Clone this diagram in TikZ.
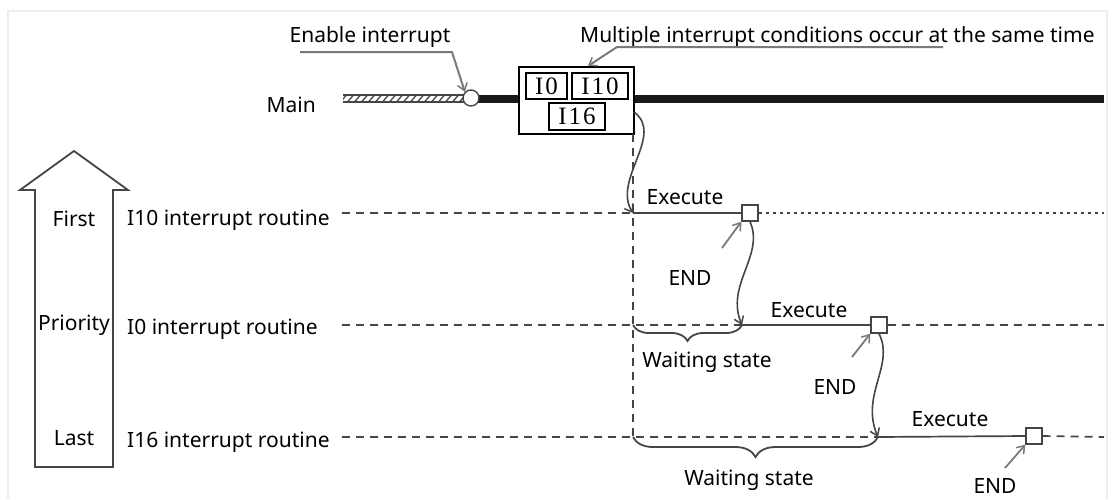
\documentclass[tikz,border=0pt]{standalone}
\usepackage{fontspec}
\setmainfont{Noto Sans}
\newfontfamily\boxfont[LetterSpace=8]{Liberation Serif}
\usetikzlibrary{arrows.meta,decorations.pathreplacing}
\definecolor{ln}{HTML}{454545}
\definecolor{lead}{HTML}{7A7A7A}
\definecolor{frame}{HTML}{EDEDED}
\begin{document}
\begin{tikzpicture}[x=1pt,y=-1pt,
  lbl/.style={font=\fontsize{21}{25}\selectfont, inner sep=0pt, anchor=base},
  boxlbl/.style={draw=black, line width=1.3pt, fill=white, inner sep=0pt,
    font=\boxfont\fontsize{25}{25}\selectfont},
  timeline/.style={draw=ln, line width=1.7pt, dash pattern=on 8pt off 6pt},
  dotline/.style={draw=ln, line width=1.7pt, dash pattern=on 3pt off 4pt},
  execline/.style={draw=ln, line width=1.7pt},
  endsq/.style={draw=ln, line width=1.4pt, fill=white, minimum size=16pt,
    inner sep=0pt},
  tip/.style={-{Straight Barb[length=7pt,width=10pt,line width=1.5pt]}},
  flow/.style={draw=ln, line width=1.6pt, tip},
  leader/.style={draw=lead, line width=2pt, tip},
  waitbrace/.style={draw=ln, line width=1.8pt, decorate,
    decoration={brace, mirror, amplitude=#1}}
]
\useasboundingbox (0,0) rectangle (1113,499);

% faint outer frame
\draw[frame, line width=1.5pt] (8,499) -- (8,11) -- (1107,11) -- (1107,499);

% priority arrow
\draw[ln, line width=1.8pt, line join=miter]
  (74,151) -- (128,190) -- (113,190) -- (113,467) -- (35,467)
  -- (35,190) -- (20,190) -- cycle;
\node[lbl] (first) at (74,226) {First};
\node[lbl] (prio)  at (74,330) {Priority};
\node[lbl] (last)  at (74,445) {Last};

% routine labels
\node[lbl, anchor=base west] (r10) at (127,225) {I10 interrupt routine};
\node[lbl, anchor=base west] (r0)  at (127,334) {I0 interrupt routine};
\node[lbl, anchor=base west] (r16) at (127,447) {I16 interrupt routine};

% main program line
\node[lbl, anchor=base east] (main) at (316,112) {Main};
\begin{scope}
  \clip (343,94.5) rectangle (464,102.5);
  \foreach \x in {340,347,...,465}
    \draw[ln, line width=1.3pt] (\x,102.5) -- (\x+7,94.5);
\end{scope}
\draw[ln, line width=1.2pt] (343,95) -- (464,95) (343,102) -- (464,102);
\coordinate (mainend) at (1104,99);
\coordinate (mainstart) at (471,99);
\draw[line width=8pt, color=black!90] (mainstart) -- (mainend);
\node[circle, draw=ln, line width=1.4pt, fill=white, minimum size=16pt,
  inner sep=0pt] (en) at (471,98) {};

% interrupt request box
\node[draw=black, line width=1.5pt, fill=white, minimum width=115pt,
  minimum height=67pt, inner sep=0pt] (req) at (576.5,100.5) {};
\node[boxlbl, minimum width=41pt, minimum height=26pt] (b0)  at (546.5,86) {I0};
\node[boxlbl, minimum width=56pt, minimum height=26pt] (b10) at (600,86) {I10};
\node[boxlbl, minimum width=56pt, minimum height=27pt] (b16) at (577,116.5) {I16};

% labels at the top and their leaders
\node[lbl] (entxt) at (370,42) {Enable interrupt};
\node[lbl, anchor=base west] (multxt) at (580,42)
  {Multiple interrupt conditions occur at the same time};
\coordinate (enA) at (300,52);
\coordinate (enB) at (452,52);
\coordinate (muA) at (943,47);
\coordinate (muB) at (617,47);
\coordinate (muT) at (588,66);
\draw[leader] (enA) -- (enB) -- (en.north west);
\draw[leader] (muA) -- (muB) -- (muT);

% vertical switch-over line
\coordinate (vtop) at (633,134);
\coordinate (v10) at (633,213);
\coordinate (v0)  at (633,325);
\coordinate (v16) at (633,437);
\draw[timeline] (vtop) -- (v16);

% I10 routine
\coordinate (s10) at (342,213);
\node[endsq] (q10) at (750,213) {};
\draw[timeline] (s10) -- (v10);
\draw[execline] (v10) -- (q10.west);
\draw[dotline] (q10.east) -- (1104,213);

% I0 routine
\coordinate (s0) at (342,325);
\coordinate (e0) at (742,325);
\node[endsq] (q0) at (879,325) {};
\draw[timeline] (s0) -- (e0);
\draw[execline] (e0) -- (q0.west);
\draw[timeline] (q0.east) -- (1104,325);

% I16 routine
\coordinate (s16) at (342,437);
\coordinate (e16) at (878,437);
\node[endsq] (q16) at (1034,436) {};
\draw[timeline] (s16) -- (e16);
\draw[execline] (e16) -- (q16.west);
\draw[timeline] (q16.east) -- (1104,437);

% flow from the request box through the routines
\coordinate (boxout) at (634,112);
\draw[flow] (boxout) .. controls (665,135) and (612,180) .. (v10);
\draw[flow] (q10.south) .. controls (765,255) and (725,285) .. (e0);
\draw[flow] (q0.south) .. controls (895,365) and (860,395) .. (e16);

% END markers
\coordinate (p10) at (722,248);
\coordinate (p0)  at (852,357);
\coordinate (p16) at (1005,468);
\draw[leader, line width=1.8pt] (p10) -- (q10.south west);
\draw[leader, line width=1.8pt] (p0) -- (q0.south west);
\draw[leader, line width=1.8pt] (p16) -- (q16.south west);

\node[lbl] (x10) at (685,204) {Execute};
\node[lbl] (x0)  at (809,317) {Execute};
\node[lbl] (x16) at (950,426) {Execute};
\node[lbl] (d10) at (690,285) {END};
\node[lbl] (d0)  at (835,394) {END};
\node[lbl] (d16) at (995,493) {END};

% waiting periods
\draw[waitbrace=16pt] (v0) -- (e0);
\draw[waitbrace=20pt] (v16) -- (e16);
\node[lbl] (w0)  at (707,367) {Waiting state};
\node[lbl] (w16) at (749,485) {Waiting state};
\end{tikzpicture}
\end{document}
